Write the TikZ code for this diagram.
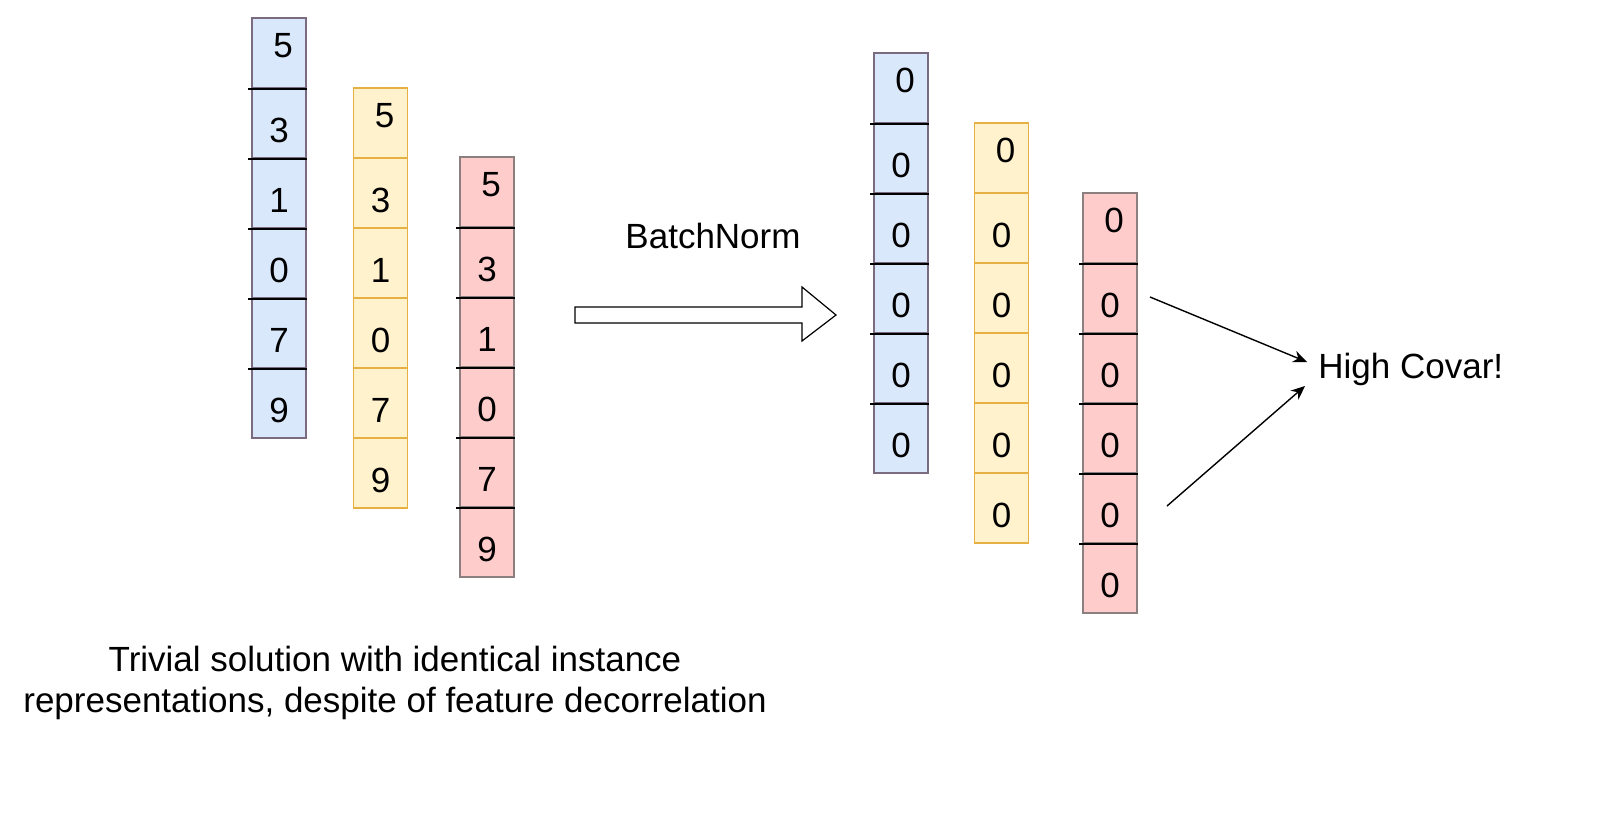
\documentclass[tikz,border=0pt]{standalone}
\usepackage{fontspec}
\setmainfont{Liberation Sans}
\usetikzlibrary{arrows.meta}
\definecolor{bluefill}{HTML}{DAE8FC}
\definecolor{bluedraw}{HTML}{7A6B80}
\definecolor{yellowfill}{HTML}{FFF2CC}
\definecolor{yellowdraw}{HTML}{E6B043}
\definecolor{redfill}{HTML}{FFCCCC}
\definecolor{reddraw}{HTML}{8C7F80}
\tikzset{
	cell/.style={rectangle, minimum width=27pt, minimum height=35pt, inner sep=0pt, line width=0.7pt},
	bluecell/.style={cell, fill=bluefill, draw=bluedraw},
	yellowcell/.style={cell, fill=yellowfill, draw=yellowdraw},
	redcell/.style={cell, fill=redfill, draw=reddraw},
	divider/.style={line width=0.8pt},
	pointer/.style={line width=0.7pt, -{Stealth[length=7pt,width=6pt]}}
}
% top value sits a bit higher and to the right, the others a bit lower
\newcommand{\cellnum}[2]{\ifnum#1=1\relax\hspace*{4pt}\raisebox{-2.25pt}[0pt][0pt]{#2}\else\raisebox{-9.75pt}[0pt][0pt]{#2}\fi}
\begin{document}
\begin{tikzpicture}[x=0.5pt,y=-0.5pt,font=\fontsize{17.5}{20.5}\selectfont]
		\useasboundingbox (0,0) rectangle (1600,819);
		% Input columns
		\foreach \v [count=\i] in {5,3,1,0,7,9}
			\node[bluecell] (bl\i) at (279,{18+70*\i-35}) {\cellnum{\i}{\v}};
		\foreach \v [count=\i] in {5,3,1,0,7,9}
			\node[yellowcell] (yl\i) at (380.5,{88+70*\i-35}) {\cellnum{\i}{\v}};
		\foreach \v [count=\i] in {5,3,1,0,7,9}
			\node[redcell] (rl\i) at (487,{157+70*\i-35}) {\cellnum{\i}{\v}};
		% Output columns
		\foreach \i in {1,...,6}
			\node[bluecell] (br\i) at (901,{53+70*\i-35}) {\cellnum{\i}{0}};
		\foreach \i in {1,...,6}
			\node[yellowcell] (yr\i) at (1001.5,{123+70*\i-35}) {\cellnum{\i}{0}};
		\foreach \i in {1,...,6}
			\node[redcell] (rr\i) at (1110,{193+70*\i-35}) {\cellnum{\i}{0}};
		% Dividers
		\foreach \i in {1,...,5} {
			\draw[divider] ([xshift=-1.5pt]bl\i.south west) -- (bl\i.south east);
			\draw[divider] ([xshift=-1.5pt]rl\i.south west) -- (rl\i.south east);
			\draw[divider] ([xshift=-1.5pt]br\i.south west) -- (br\i.south east);
			\draw[divider] ([xshift=-1.5pt]rr\i.south west) -- (rr\i.south east);
		}
		% BatchNorm arrow
		\draw[line width=0.6pt, fill=white] (575,307) -- (802,307) -- (802,287) -- (836,315)
			-- (802,341) -- (802,323) -- (575,323) -- cycle;
		\node (bn) at (713,236) {BatchNorm};
		% High covariance
		\node[anchor=west, inner sep=0pt] (hc) at (1318,369) {High Covar!};
		\coordinate (s1) at (1150,297);
		\coordinate (s2) at (1167,506);
		\draw[pointer] (s1) -- ([xshift=-5.5pt,yshift=3.5pt]hc.west);
		\draw[pointer] (s2) -- ([xshift=-6.5pt,yshift=-8.5pt]hc.west);
		% Caption
		\node[align=center] (caption) at (395,683) {Trivial solution with identical instance\\
			representations, despite of feature decorrelation};
	\end{tikzpicture}
\end{document}
